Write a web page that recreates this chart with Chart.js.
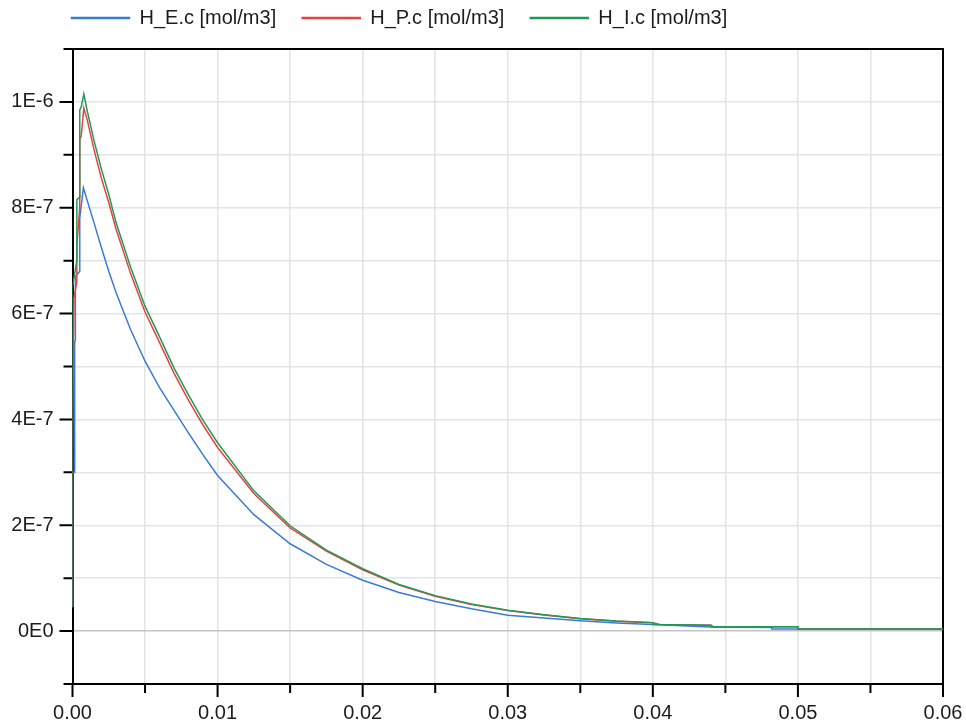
<!DOCTYPE html>
<html>
<head>
<meta charset="utf-8">
<script src="https://cdn.jsdelivr.net/npm/chart.js@4/dist/chart.umd.min.js"></script>
<style>
  html, body { margin: 0; padding: 0; background: #fff; }
  #wrap { width: 966px; height: 726px; }
</style>
</head>
<body>
<div id="wrap"><canvas id="c" width="966" height="726"></canvas></div>
<script>
// ── Data (time in s, concentration in mol/m3) ─────────────────────────────────
const seriesNames = ["H_E.c [mol/m3]", "H_P.c [mol/m3]", "H_I.c [mol/m3]"];
const seriesColors = ["#3a7bd8", "#e8413f", "#1f9a57"];

const tE = [0, 0, 0.00015, 0.00015, 0.0002, 0.0002, 0.0005, 0.0005, 0.00075, 0.001, 0.0015, 0.002,
  0.0025, 0.003, 0.004, 0.005, 0.006, 0.007, 0.008, 0.009, 0.010, 0.0125, 0.015, 0.0175, 0.020,
  0.0225, 0.025, 0.0275, 0.030, 0.0325, 0.035, 0.0375, 0.040, 0.042, 0.044, 0.0482, 0.0482, 0.060];
const cE = [0.45e-7, 3.0e-7, 3.0e-7, 5.45e-7, 5.5e-7, 6.7e-7, 6.8e-7, 7.8e-7, 8.38e-7, 8.15e-7, 7.7e-7, 7.24e-7,
  6.8e-7, 6.4e-7, 5.7e-7, 5.1e-7, 4.6e-7, 4.17e-7, 3.74e-7, 3.33e-7, 2.94e-7, 2.2e-7, 1.65e-7, 1.26e-7, 0.96e-7,
  0.73e-7, 0.56e-7, 0.42e-7, 0.30e-7, 0.245e-7, 0.195e-7, 0.155e-7, 0.126e-7, 0.10e-7, 0.075e-7, 0.07e-7, 0.04e-7, 0.04e-7];

const tP = [0, 0, 0.0001, 0.0003, 0.0003, 0.0005, 0.0005, 0.0006, 0.00078, 0.001, 0.0015, 0.002,
  0.0025, 0.003, 0.004, 0.005, 0.006, 0.007, 0.008, 0.009, 0.010, 0.0125, 0.015, 0.0175, 0.020,
  0.0225, 0.025, 0.0275, 0.030, 0.0325, 0.035, 0.0375, 0.040, 0.0405, 0.044, 0.0442, 0.050, 0.050, 0.060];
const cP = [0.45e-7, 3.4e-7, 6.3e-7, 6.6e-7, 7.3e-7, 8.0e-7, 9.3e-7, 9.35e-7, 9.88e-7, 9.68e-7, 9.08e-7, 8.55e-7,
  8.1e-7, 7.6e-7, 6.76e-7, 6.03e-7, 5.45e-7, 4.87e-7, 4.36e-7, 3.89e-7, 3.47e-7, 2.6e-7, 1.95e-7, 1.51e-7, 1.16e-7,
  0.87e-7, 0.66e-7, 0.50e-7, 0.39e-7, 0.305e-7, 0.235e-7, 0.187e-7, 0.158e-7, 0.126e-7, 0.108e-7, 0.083e-7, 0.08e-7, 0.04e-7, 0.04e-7];

const tI = [0, 0, 0, 0.0003, 0.0003, 0.0005, 0.0005, 0.0006, 0.00078, 0.001, 0.0015, 0.002,
  0.0025, 0.003, 0.004, 0.005, 0.006, 0.007, 0.008, 0.009, 0.010, 0.0125, 0.015, 0.0175, 0.020,
  0.0225, 0.025, 0.0275, 0.030, 0.0325, 0.035, 0.0375, 0.040, 0.040, 0.044, 0.044, 0.050, 0.050, 0.060];
const cI = [0.45e-7, 3.5e-7, 6.5e-7, 7.0e-7, 8.15e-7, 8.2e-7, 9.85e-7, 9.9e-7, 10.15e-7, 9.85e-7, 9.25e-7, 8.72e-7,
  8.25e-7, 7.72e-7, 6.88e-7, 6.14e-7, 5.56e-7, 4.97e-7, 4.46e-7, 3.98e-7, 3.56e-7, 2.65e-7, 1.99e-7, 1.53e-7, 1.18e-7,
  0.88e-7, 0.67e-7, 0.51e-7, 0.395e-7, 0.31e-7, 0.24e-7, 0.19e-7, 0.16e-7, 0.126e-7, 0.11e-7, 0.083e-7, 0.083e-7, 0.04e-7, 0.04e-7];

// ── Axes ────────────────────────────────────────────────────────────────────
const xTicks  = [0, 0.005, 0.01, 0.015, 0.02, 0.025, 0.03, 0.035, 0.04, 0.045, 0.05, 0.055, 0.06];
const xLabels = ["0.00", "", "0.01", "", "0.02", "", "0.03", "", "0.04", "", "0.05", "", "0.06"];
const yTicks  = [-1e-7, 0, 1e-7, 2e-7, 3e-7, 4e-7, 5e-7, 6e-7, 7e-7, 8e-7, 9e-7, 1e-6, 1.1e-6];
const yLabels = ["", "0E0", "", "2E-7", "", "4E-7", "", "6E-7", "", "8E-7", "", "1E-6", ""];

const FONT = { family: "'Liberation Sans', Arial, sans-serif", size: 20 };
const TEXT = "#1c1c1c";

const pts = (t, c) => t.map((x, i) => ({ x, y: c[i] }));

// frame (top/right) and two-length tick marks
const frameTicks = {
  id: "frameTicks",
  beforeDatasetsDraw(chart) {
    const { ctx, chartArea: a, scales: { x, y } } = chart;
    ctx.save();
    ctx.strokeStyle = "#000";
    ctx.lineWidth = 2;
    ctx.beginPath();
    ctx.moveTo(a.left, a.top); ctx.lineTo(a.right, a.top); ctx.lineTo(a.right, a.bottom);
    ctx.stroke();
    ctx.beginPath();
    y.ticks.forEach((t, i) => {
      const py = y.getPixelForValue(t.value);
      const len = yLabels[i] ? 13 : 9;
      ctx.moveTo(a.left - len, py); ctx.lineTo(a.left, py);
    });
    x.ticks.forEach((t, i) => {
      const px = x.getPixelForValue(t.value);
      const len = xLabels[i] ? 13 : 9;
      ctx.moveTo(px, a.bottom); ctx.lineTo(px, a.bottom + len);
    });
    ctx.stroke();
    ctx.restore();
  }
};

// pin the legend row where the reference has it
const legendPlace = {
  id: "legendPlace",
  beforeLayout(chart) {
    const lg = chart.legend;
    if (!lg || lg._placed) return;
    lg._placed = true;
    const fit = lg.fit, draw = lg.draw;
    lg.fit = function () { fit.call(this); this.height = 49; };
    lg.draw = function () {
      const c = this.ctx;
      c.save(); c.translate(45.5, -18); draw.call(this); c.restore();
    };
  }
};

new Chart(document.getElementById("c"), {
  type: "line",
  data: {
    datasets: [
      { label: seriesNames[0], data: pts(tE, cE), borderColor: seriesColors[0], backgroundColor: seriesColors[0], order: 2 },
      { label: seriesNames[1], data: pts(tP, cP), borderColor: seriesColors[1], backgroundColor: seriesColors[1], order: 1 },
      { label: seriesNames[2], data: pts(tI, cI), borderColor: seriesColors[2], backgroundColor: seriesColors[2], order: 0 }
    ]
  },
  options: {
    responsive: false, animation: false,
    layout: { padding: { left: 0, right: 23, top: 0, bottom: 0 } },
    elements: {
      line: { borderWidth: 1.5, tension: 0, fill: false },
      point: { radius: 0, hoverRadius: 0 }
    },
    plugins: {
      legend: {
        position: "top", align: "start",
        labels: { boxWidth: 58, boxHeight: 1, padding: 26, color: TEXT, font: FONT,
                  sort: (a, b) => a.datasetIndex - b.datasetIndex }
      },
      tooltip: { enabled: false }
    },
    scales: {
      x: {
        type: "linear", min: 0, max: 0.06,
        afterBuildTicks: s => { s.ticks = xTicks.map(v => ({ value: v })); },
        afterFit: s => { s.height = 42; s.paddingLeft = 0; s.paddingRight = 0; },
        ticks: { autoSkip: false, maxRotation: 0, padding: 17, color: TEXT, font: FONT,
                 callback: (v, i) => xLabels[i] },
        grid: { color: "#e4e4e4", lineWidth: 1.5, drawTicks: false },
        border: { color: "#000", width: 2 }
      },
      y: {
        type: "linear", min: -1e-7, max: 1.1e-6,
        afterBuildTicks: s => { s.ticks = yTicks.map(v => ({ value: v })); },
        afterFit: s => { s.width = 72.5; s.paddingTop = 0; s.paddingBottom = 0; },
        ticks: { autoSkip: false, padding: 19, color: TEXT, font: FONT,
                 callback: (v, i) => yLabels[i] },
        grid: {
          color: c => (c.tick && c.tick.value === 0 ? "#c4c4c4" : "#e4e4e4"),
          lineWidth: 1.5, drawTicks: false
        },
        border: { color: "#000", width: 2 }
      }
    }
  },
  plugins: [frameTicks, legendPlace]
});
</script>
</body>
</html>
